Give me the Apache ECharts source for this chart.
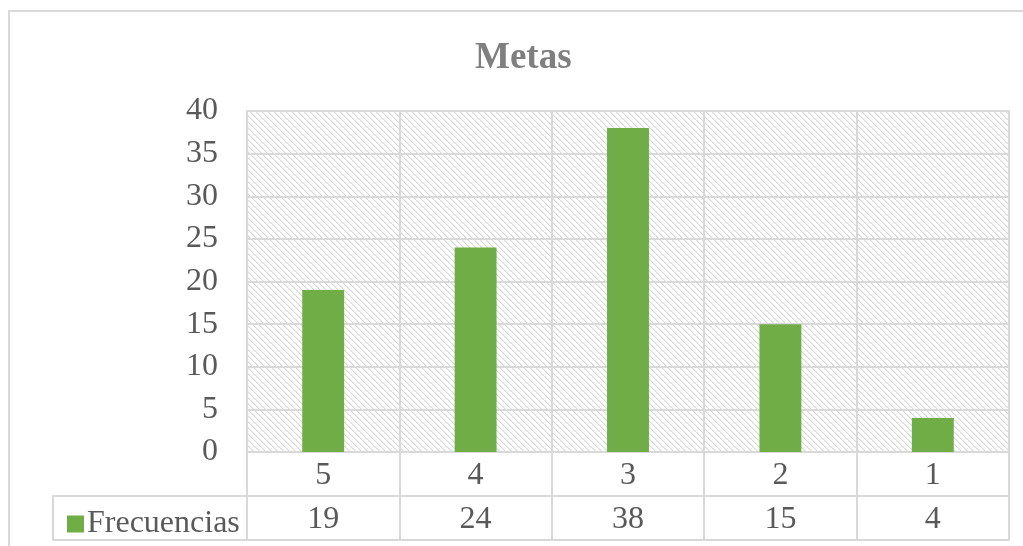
<!DOCTYPE html>
<html>
<head>
<meta charset="utf-8">
<title>Metas</title>
<script src="https://cdn.jsdelivr.net/npm/echarts@6/dist/echarts.min.js"></script>
<style>
  html, body { margin: 0; padding: 0; background: #ffffff; }
  #chart { width: 1023px; height: 546px; }
</style>
</head>
<body>
<div id="chart"></div>
<script>
// Chart data
const categories = ['5', '4', '3', '2', '1'];
const frecuencias = [19, 24, 38, 15, 4];
const seriesName = 'Frecuencias';
const chartTitle = 'Metas';

const FONT = '"Liberation Serif", "Times New Roman", serif';
const TEXT = '#595959';
const LINE = '#d9d9d9';
const GREEN = '#70ad47';

// Light downward-diagonal hatch for the plot background
function hatchPattern() {
  const c = document.createElement('canvas');
  const n = 6;
  c.width = n; c.height = n;
  const ctx = c.getContext('2d');
  ctx.fillStyle = '#ffffff';
  ctx.fillRect(0, 0, n, n);
  ctx.fillStyle = '#d8d8d8';
  for (let i = 0; i < n; i++) {
    ctx.fillRect(i, i, 1, 1);
  }
  ctx.fillStyle = '#efefef';
  for (let i = 0; i < n; i++) {
    ctx.fillRect((i + 1) % n, i, 1, 1);
  }
  return { image: c, repeat: 'repeat' };
}

const chart = echarts.init(document.getElementById('chart'), null, { renderer: 'canvas' });

const gridLeft = 247, gridRight = 14, gridTop = 111, gridBottom = 94;
const rowH = 44;

chart.setOption({
  animation: false,
  title: {
    text: chartTitle,
    left: 470,
    top: 35,
    textStyle: { fontFamily: FONT, fontSize: 37, fontWeight: 'bold', color: '#7f7f7f' }
  },
  legend: {
    left: 62,
    top: 503,
    itemWidth: 17,
    itemHeight: 17,
    itemGap: 4,
    icon: 'rect',
    textStyle: { fontFamily: FONT, fontSize: 32, color: TEXT, padding: [0, 0, 0, -2] },
    data: [seriesName]
  },
  grid: {
    left: gridLeft, right: gridRight, top: gridTop, bottom: gridBottom,
    show: true,
    backgroundColor: hatchPattern(),
    borderColor: LINE,
    borderWidth: 2,
    containLabel: false
  },
  xAxis: [
    {
      type: 'category',
      data: categories,
      position: 'bottom',
      axisLine: { show: true, lineStyle: { color: LINE, width: 2 } },
      axisTick: { show: true, length: rowH, lineStyle: { color: LINE, width: 2 } },
      splitLine: { show: true, lineStyle: { color: LINE, width: 2 } },
      axisLabel: { fontFamily: FONT, fontSize: 32, color: TEXT, margin: 8 }
    },
    {
      type: 'category',
      data: frecuencias.map(String),
      position: 'bottom',
      offset: rowH,
      axisLine: { show: true, lineStyle: { color: LINE, width: 2 } },
      axisTick: { show: true, length: rowH, lineStyle: { color: LINE, width: 2 } },
      splitLine: { show: false },
      axisLabel: { fontFamily: FONT, fontSize: 32, color: TEXT, margin: 8 }
    },
    {
      type: 'category',
      data: categories,
      position: 'bottom',
      offset: rowH * 2,
      axisLine: { show: true, lineStyle: { color: LINE, width: 2 } },
      axisTick: { show: false },
      splitLine: { show: false },
      axisLabel: { show: false }
    }
  ],
  yAxis: {
    type: 'value',
    min: 0,
    max: 40,
    interval: 5,
    axisLine: { show: false },
    axisTick: { show: false },
    splitLine: { show: true, lineStyle: { color: LINE, width: 2 } },
    axisLabel: { fontFamily: FONT, fontSize: 32, color: TEXT, margin: 29 }
  },
  graphic: [
    {
      type: 'rect',
      shape: { x: 9, y: 11, width: 1030, height: 560 },
      style: { fill: null, stroke: LINE, lineWidth: 2 },
      silent: true,
      z: -1
    },
    {
      type: 'rect',
      shape: { x: 53, y: 452 + rowH, width: gridLeft - 53, height: rowH },
      style: { fill: null, stroke: LINE, lineWidth: 2 },
      silent: true
    }
  ],
  series: [
    {
      name: seriesName,
      type: 'bar',
      xAxisIndex: 0,
      data: frecuencias,
      barWidth: '27.5%',
      itemStyle: { color: GREEN }
    }
  ]
});
</script>
</body>
</html>
